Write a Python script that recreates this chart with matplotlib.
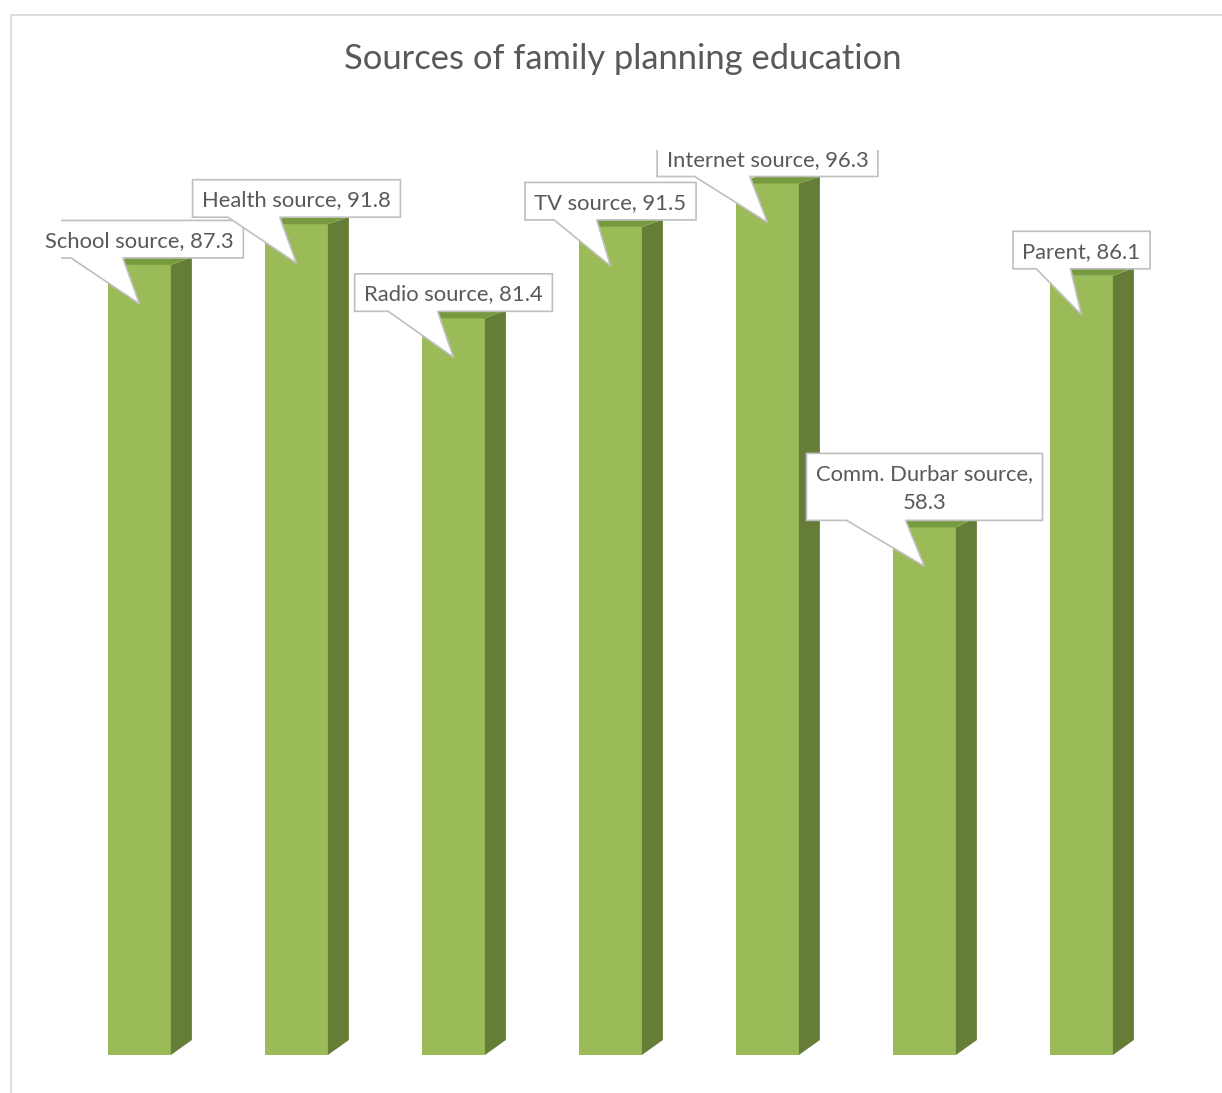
import matplotlib
matplotlib.use('Agg')
import matplotlib.pyplot as plt
from matplotlib.patches import Polygon, Rectangle
import numpy as np

# %%
# Data
categories = ['School source', 'Health source', 'Radio source', 'TV source',
              'Internet source', 'Comm. Durbar source', 'Parent']
values = [87.3, 91.8, 81.4, 91.5, 96.3, 58.3, 86.1]
label_texts = ['School source, 87.3', 'Health source, 91.8',
               'Radio source, 81.4', 'TV source, 91.5',
               'Internet source, 96.3', 'Comm. Durbar source,\n58.3',
               'Parent, 86.1']

front_col = '#9BBB59'
top_col = '#789A3E'
side_col = '#667D37'
text_col = '#595959'
fonts = ['Lato', 'DejaVu Sans']

W, H = 1222, 1093
fig = plt.figure(figsize=(W / 100, H / 100), dpi=100)
fig.patch.set_facecolor('white')

# chart frame (cut off on the right and bottom like the source)
fig.patches.append(Rectangle((11 / W, -0.1), 1.2, 1.1 - 15 / H,
                             transform=fig.transFigure, fill=False,
                             edgecolor='#D9D9D9', linewidth=1.3))

# axes: 0 at y=1055 px, 100 at y=150 px
ax = fig.add_axes([61 / W, 38 / H, 1099 / W, 905 / H])
ax.set_xlim(-0.5, 6.5)
ax.set_ylim(0, 100)
ax.axis('off')

x = np.arange(len(values))
bw = 0.40
ax.bar(x, values, width=bw, color=front_col, linewidth=0, zorder=2)

# fake 3D depth, pixels -> data units
px_x = 1099 / 7
px_y = 905 / 100
dx = 21 / px_x


def depth(v):
    return (15 - 0.083 * v) / px_y


for xi, v in zip(x, values):
    r = xi + bw / 2
    l = xi - bw / 2
    side = Polygon([(r, 0), (r + dx, depth(0)), (r + dx, v + depth(v)), (r, v)],
                   closed=True, facecolor=side_col, edgecolor='none', zorder=2)
    top = Polygon([(l, v), (r, v), (r + dx, v + depth(v)), (l + dx, v + depth(v))],
                  closed=True, facecolor=top_col, edgecolor='none', zorder=2)
    ax.add_patch(side)
    ax.add_patch(top)

# title
fig.text(623 / W, 1 - 69 / H, 'Sources of family planning education',
         ha='center', va='baseline', fontsize=24.8, color=text_col,
         family=fonts)

# callout labels
fig.canvas.draw()
renderer = fig.canvas.get_renderer()
lab_size = 15.8
cap_px = 0.72 * lab_size * 100 / 72
line_px = 28.5

for xi, v, lab in zip(x, values, label_texts):
    lines = lab.split('\n')
    n = len(lines)
    tip = (xi, v - 39 / px_y)
    bottom = v + 7 / px_y
    box_h = (29.5 * n + 8) / px_y
    centre = bottom + box_h / 2
    widths = []
    for k, line in enumerate(lines):
        base = centre + ((n - 1) * line_px / 2 - k * line_px - cap_px / 2) / px_y
        t = ax.text(xi, base, line, ha='center', va='baseline',
                    fontsize=lab_size, color=text_col, family=fonts, zorder=6)
        widths.append(t.get_window_extent(renderer).width)
    half_w = (max(widths) + 19) / 2 / px_x
    L, R = xi - half_w, xi + half_w
    B, T = bottom, bottom + box_h
    x1 = L + 0.17 * (R - L)
    x2 = L + 0.42 * (R - L)
    call = Polygon([(L, B), (x1, B), tip, (x2, B), (R, B), (R, T), (L, T)],
                   closed=True, facecolor='white', edgecolor='#BFBFBF',
                   linewidth=1.2, zorder=5)
    ax.add_patch(call)

fig.savefig('out.png', dpi=100)
